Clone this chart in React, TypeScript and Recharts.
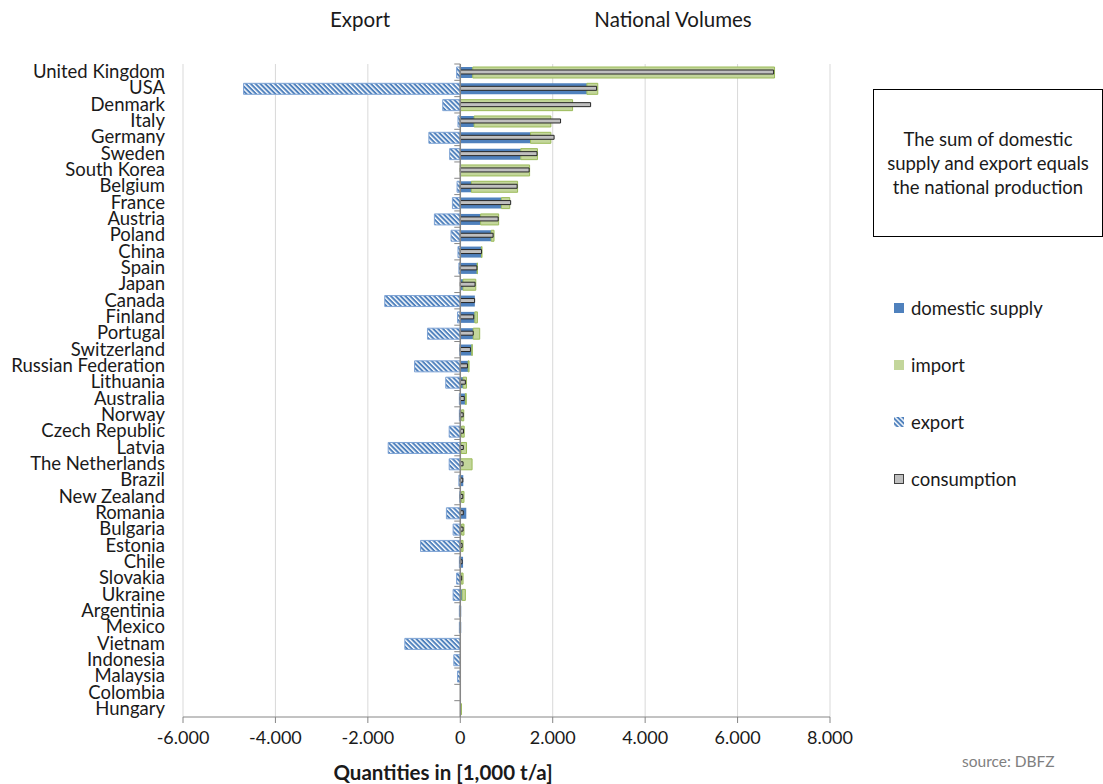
import React from 'react'
import * as R from 'recharts'
import { BarChart, Bar, XAxis, YAxis, CartesianGrid, ReferenceLine } from 'recharts'

const FONT = 'Lato, "DejaVu Sans", sans-serif'

const countries = [
  'United Kingdom', 'USA', 'Denmark', 'Italy', 'Germany', 'Sweden', 'South Korea', 'Belgium',
  'France', 'Austria', 'Poland', 'China', 'Spain', 'Japan', 'Canada', 'Finland', 'Portugal',
  'Switzerland', 'Russian Federation', 'Lithuania', 'Australia', 'Norway', 'Czech Republic',
  'Latvia', 'The Netherlands', 'Brazil', 'New Zealand', 'Romania', 'Bulgaria', 'Estonia', 'Chile',
  'Slovakia', 'Ukraine', 'Argentinia', 'Mexico', 'Vietnam', 'Indonesia', 'Malaysia', 'Colombia',
  'Hungary',
]

const domesticSupply = [
  270, 2740, 0, 300, 1520, 1310, 0, 240, 890, 440, 670, 460, 365, 60, 315, 315, 280, 250, 170, 60,
  110, 30, 30, 20, 0, 65, 30, 130, 30, 20, 60, 20, 40, 20, 20, 0, 0, 0, 0, 15,
]

const imports = [
  6530, 235, 2430, 1660, 440, 360, 1500, 1000, 180, 390, 60, 10, 5, 275, 0, 55, 140, 10, 20, 75,
  20, 45, 55, 115, 255, 0, 50, 0, 50, 40, 0, 40, 70, 0, 0, 0, 0, 0, 0, 10,
]

const exports = [
  -80, -4690, -380, -50, -680, -230, 0, -70, -170, -560, -200, -50, -30, 0, -1635, -60, -710, -10,
  -990, -315, -20, -20, -240, -1560, -240, -30, -10, -300, -155, -860, -20, -80, -155, -20, -20,
  -1200, -140, -60, 0, 0,
]

const consumption = [
  6780, 2950, 2820, 2170, 2030, 1660, 1490, 1230, 1090, 820, 710, 460, 360, 320, 310, 290, 280,
  220, 155, 110, 85, 63, 70, 65, 60, 55, 55, 65, 60, 40, 40, 30, 0, 0, 0, 0, 0, 0, 0, 0,
]

const xTicks = [-6000, -4000, -2000, 0, 2000, 4000, 6000, 8000]

const seriesNames = {
  domestic: 'domestic supply',
  import: 'import',
  export: 'export',
  consumption: 'consumption',
}

const noteLines = ['The sum of domestic', 'supply and export equals', 'the national production']

const data = countries.map((country, i) => ({
  country,
  domestic: domesticSupply[i],
  import: imports[i],
  export: exports[i],
  consumption: consumption[i],
}))

const BLUE = '#4f81bd'
const GREEN_FILL = '#c3d69b'
const GREEN_EDGE = '#9bbb59'
const AXIS = '#868686'

function formatThousands(v: number) {
  const s = Math.abs(v).toString().replace(/\B(?=(\d{3})+(?!\d))/g, '.')
  return v < 0 ? '-' + s : s
}

function CountryTick(props: any) {
  const { x, y, payload } = props
  return (
    <text x={x} y={y} dy={6} textAnchor="end" fontFamily={FONT} fontSize={18.5} fill="#1a1a1a">
      {payload.value}
    </text>
  )
}

// small tick marks on the zero line, between the categories
function ZeroAxisTicks() {
  const usePlotArea = (R as any).usePlotArea
  const area = usePlotArea ? usePlotArea() : null
  if (!area) return null
  const x0 = area.x + ((0 - xTicks[0]) / (xTicks[xTicks.length - 1] - xTicks[0])) * area.width
  const step = area.height / countries.length
  return (
    <g>
      {countries.map((c, i) => (
        <line key={c} x1={x0 - 6} x2={x0} y1={area.y + i * step} y2={area.y + i * step} stroke={AXIS} />
      ))}
    </g>
  )
}

function LegendBox() {
  const items = [
    { name: seriesNames.domestic, kind: 'domestic' },
    { name: seriesNames.import, kind: 'import' },
    { name: seriesNames.export, kind: 'export' },
    { name: seriesNames.consumption, kind: 'consumption' },
  ]
  return (
    <div style={{ fontFamily: FONT, fontSize: 18.5, color: '#1a1a1a' }}>
      {items.map((it) => (
        <div key={it.kind} style={{ display: 'flex', alignItems: 'center', height: 57 }}>
          <svg width={12} height={12} style={{ marginRight: 6 }}>
            {it.kind === 'domestic' && <rect x={1} y={1} width={10} height={10} fill={BLUE} />}
            {it.kind === 'import' && <rect x={1} y={1} width={10} height={10} fill={GREEN_FILL} />}
            {it.kind === 'export' && <rect x={1} y={1} width={10} height={10} fill="url(#hatch)" />}
            {it.kind === 'consumption' && (
              <rect x={1.5} y={1.5} width={9} height={9} fill="#bfbfbf" stroke="#404040" />
            )}
          </svg>
          <span>{it.name}</span>
        </div>
      ))}
    </div>
  )
}

export default function App() {
  return (
    <div style={{ position: 'absolute', left: 0, top: 0, width: 1103, height: 784, background: '#fff' }}>
      <BarChart
        width={1103}
        height={784}
        data={data}
        layout="vertical"
        stackOffset="sign"
        margin={{ top: 64, right: 273, bottom: 37, left: 8 }}
      >
        <defs>
          <pattern id="hatch" patternUnits="userSpaceOnUse" width={3.4} height={3.4} patternTransform="rotate(-45)">
            <rect width={3.4} height={3.4} fill={BLUE} />
            <rect width={1.4} height={3.4} fill="#ffffff" />
          </pattern>
        </defs>
        <CartesianGrid horizontal={false} stroke="#d9d9d9" />
        <XAxis
          type="number"
          domain={[xTicks[0], xTicks[xTicks.length - 1]]}
          ticks={xTicks}
          tickFormatter={formatThousands}
          height={30}
          stroke={AXIS}
          tickSize={6}
          tickMargin={8}
          tick={{ fontFamily: FONT, fontSize: 18, fill: '#1a1a1a' }}
          allowDataOverflow
        />
        <YAxis
          yAxisId="main"
          type="category"
          dataKey="country"
          width={175}
          interval={0}
          axisLine={false}
          tickLine={false}
          tickSize={0}
          tickMargin={18}
          tick={<CountryTick />}
        />
        <YAxis yAxisId="cons" type="category" dataKey="country" hide width={0} />
        <ReferenceLine yAxisId="main" x={0} stroke={AXIS} strokeWidth={1.5} />
        <Bar yAxisId="main" dataKey="domestic" name={seriesNames.domestic} stackId="a" barSize={11} fill={BLUE} isAnimationActive={false} />
        <Bar yAxisId="main" dataKey="import" name={seriesNames.import} stackId="a" barSize={11} fill={GREEN_FILL} stroke={GREEN_EDGE} strokeWidth={1} isAnimationActive={false} />
        <Bar yAxisId="main" dataKey="export" name={seriesNames.export} stackId="a" barSize={11} fill="url(#hatch)" stroke="#7ea3d4" strokeWidth={1} isAnimationActive={false} />
        <Bar yAxisId="cons" dataKey="consumption" name={seriesNames.consumption} barSize={4} fill="#bfbfbf" stroke="#262626" strokeWidth={1} isAnimationActive={false} />
        <ZeroAxisTicks />
      </BarChart>

      <div style={{ position: 'absolute', left: 893, top: 279, width: 210 }}>
        <LegendBox />
      </div>

      <div style={{ position: 'absolute', left: 0, top: 7, width: 720, fontFamily: FONT, fontSize: 20.5, color: '#1a1a1a' }}>
        <span style={{ position: 'absolute', left: 360, transform: 'translateX(-50%)' }}>Export</span>
        <span style={{ position: 'absolute', left: 673, transform: 'translateX(-50%)', whiteSpace: 'nowrap' }}>National Volumes</span>
      </div>

      <div
        style={{
          position: 'absolute',
          left: 873,
          top: 89,
          width: 228,
          height: 146,
          border: '1px solid #000',
          display: 'flex',
          flexDirection: 'column',
          justifyContent: 'center',
          alignItems: 'center',
          fontFamily: FONT,
          fontSize: 18.5,
          lineHeight: '24px',
          color: '#1a1a1a',
          whiteSpace: 'nowrap',
        }}
      >
        {noteLines.map((l) => (
          <div key={l}>{l}</div>
        ))}
      </div>

      <div
        style={{
          position: 'absolute',
          left: 443,
          top: 760,
          transform: 'translateX(-50%)',
          fontFamily: FONT,
          fontWeight: 700,
          fontSize: 20.5,
          whiteSpace: 'nowrap',
          color: '#1a1a1a',
        }}
      >
        Quantities in [1,000 t/a]
      </div>
      <div style={{ position: 'absolute', left: 962, top: 752, fontFamily: FONT, fontSize: 15.5, color: '#7f7f7f' }}>
        source: DBFZ
      </div>
    </div>
  )
}
